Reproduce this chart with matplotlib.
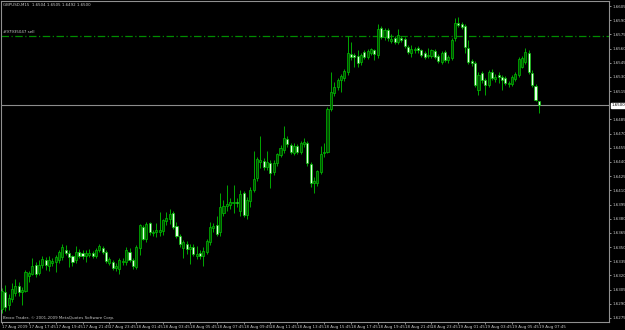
import matplotlib
matplotlib.use('Agg')
import matplotlib.pyplot as plt
import numpy as np

# GBPUSD M15, 17 Aug 2009 15:45 .. 19 Aug 2009 07:45
opens = [1.6284, 1.6302, 1.6289, 1.6295, 1.6301, 1.6309, 1.6302, 1.6303, 1.6319, 1.6322,
         1.6331, 1.6323, 1.6331, 1.6336, 1.6330, 1.6333, 1.6334, 1.6336, 1.6339, 1.6347,
         1.6344, 1.6340, 1.6336, 1.6345, 1.6344, 1.6340, 1.6342, 1.6344, 1.6340, 1.6347,
         1.6349, 1.6345, 1.6333, 1.6334, 1.6328, 1.6327, 1.6334, 1.6334, 1.6345, 1.6336,
         1.6329, 1.6349, 1.6371, 1.6358, 1.6375, 1.6365, 1.6366, 1.6366, 1.6367, 1.6378,
         1.6380, 1.6386, 1.6372, 1.6362, 1.6349, 1.6353, 1.6348, 1.6350, 1.6341, 1.6344,
         1.6341, 1.6345, 1.6355, 1.6370, 1.6373, 1.6366, 1.6386, 1.6393, 1.6394, 1.6397,
         1.6398, 1.6388, 1.6407, 1.6384, 1.6399, 1.6410, 1.6423, 1.6440, 1.6441, 1.6435,
         1.6439, 1.6429, 1.6439, 1.6447, 1.6453, 1.6464, 1.6458, 1.6450, 1.6457, 1.6451,
         1.6459, 1.6460, 1.6438, 1.6418, 1.6418, 1.6429, 1.6449, 1.6451, 1.6496, 1.6513,
         1.6519, 1.6527, 1.6529, 1.6535, 1.6554, 1.6553, 1.6552, 1.6546, 1.6556, 1.6551,
         1.6555, 1.6558, 1.6553, 1.6582, 1.6572, 1.6580, 1.6568, 1.6571, 1.6567, 1.6571,
         1.6570, 1.6562, 1.6555, 1.6558, 1.6561, 1.6558, 1.6555, 1.6552, 1.6552, 1.6557,
         1.6552, 1.6546, 1.6556, 1.6548, 1.6550, 1.6571, 1.6587, 1.6586, 1.6584, 1.6561,
         1.6547, 1.6545, 1.6516, 1.6534, 1.6527, 1.6521, 1.6535, 1.6528, 1.6532, 1.6530,
         1.6529, 1.6522, 1.6522, 1.6528, 1.6532, 1.6541, 1.6546, 1.6555, 1.6534, 1.6520,
         1.6504]
highs = [1.6307, 1.6310, 1.6300, 1.6312, 1.6316, 1.6313, 1.6308, 1.6326, 1.6325, 1.6338,
         1.6334, 1.6336, 1.6340, 1.6339, 1.6340, 1.6338, 1.6342, 1.6347, 1.6353, 1.6352,
         1.6347, 1.6342, 1.6351, 1.6348, 1.6347, 1.6347, 1.6348, 1.6346, 1.6349, 1.6353,
         1.6351, 1.6347, 1.6339, 1.6336, 1.6333, 1.6338, 1.6338, 1.6350, 1.6349, 1.6338,
         1.6352, 1.6374, 1.6373, 1.6376, 1.6377, 1.6368, 1.6375, 1.6387, 1.6380, 1.6387,
         1.6390, 1.6388, 1.6376, 1.6364, 1.6357, 1.6356, 1.6353, 1.6353, 1.6351, 1.6347,
         1.6350, 1.6358, 1.6377, 1.6375, 1.6383, 1.6407, 1.6400, 1.6416, 1.6402, 1.6416,
         1.6402, 1.6410, 1.6409, 1.6403, 1.6413, 1.6452, 1.6445, 1.6468, 1.6444, 1.6452,
         1.6442, 1.6442, 1.6450, 1.6458, 1.6478, 1.6467, 1.6460, 1.6460, 1.6459, 1.6462,
         1.6465, 1.6462, 1.6440, 1.6424, 1.6432, 1.6457, 1.6460, 1.6498, 1.6535, 1.6525,
         1.6529, 1.6533, 1.6538, 1.6573, 1.6567, 1.6555, 1.6558, 1.6555, 1.6558, 1.6559,
         1.6561, 1.6560, 1.6586, 1.6584, 1.6582, 1.6582, 1.6575, 1.6573, 1.6581, 1.6573,
         1.6572, 1.6564, 1.6564, 1.6562, 1.6563, 1.6560, 1.6557, 1.6561, 1.6560, 1.6559,
         1.6554, 1.6557, 1.6558, 1.6553, 1.6571, 1.6592, 1.6593, 1.6588, 1.6586, 1.6569,
         1.6549, 1.6547, 1.6535, 1.6536, 1.6529, 1.6537, 1.6538, 1.6533, 1.6535, 1.6532,
         1.6531, 1.6526, 1.6532, 1.6535, 1.6551, 1.6552, 1.6561, 1.6558, 1.6537, 1.6522,
         1.6505]
lows = [1.6280, 1.6282, 1.6283, 1.6292, 1.6298, 1.6298, 1.6289, 1.6302, 1.6313, 1.6320,
        1.6318, 1.6320, 1.6328, 1.6326, 1.6325, 1.6330, 1.6324, 1.6333, 1.6336, 1.6342,
        1.6329, 1.6330, 1.6333, 1.6338, 1.6337, 1.6334, 1.6339, 1.6338, 1.6338, 1.6345,
        1.6343, 1.6333, 1.6331, 1.6326, 1.6325, 1.6322, 1.6331, 1.6331, 1.6334, 1.6327,
        1.6327, 1.6342, 1.6357, 1.6355, 1.6363, 1.6362, 1.6361, 1.6362, 1.6363, 1.6373,
        1.6374, 1.6369, 1.6360, 1.6350, 1.6338, 1.6343, 1.6332, 1.6341, 1.6337, 1.6337,
        1.6330, 1.6343, 1.6352, 1.6366, 1.6362, 1.6362, 1.6383, 1.6388, 1.6390, 1.6386,
        1.6392, 1.6383, 1.6382, 1.6380, 1.6392, 1.6408, 1.6420, 1.6434, 1.6432, 1.6432,
        1.6412, 1.6426, 1.6436, 1.6445, 1.6450, 1.6456, 1.6448, 1.6447, 1.6448, 1.6448,
        1.6456, 1.6436, 1.6413, 1.6407, 1.6415, 1.6427, 1.6445, 1.6449, 1.6494, 1.6510,
        1.6516, 1.6514, 1.6526, 1.6532, 1.6548, 1.6541, 1.6541, 1.6543, 1.6549, 1.6549,
        1.6553, 1.6548, 1.6550, 1.6570, 1.6569, 1.6568, 1.6566, 1.6565, 1.6565, 1.6567,
        1.6561, 1.6554, 1.6551, 1.6555, 1.6555, 1.6551, 1.6549, 1.6550, 1.6550, 1.6549,
        1.6545, 1.6544, 1.6546, 1.6545, 1.6548, 1.6568, 1.6583, 1.6581, 1.6555, 1.6544,
        1.6542, 1.6519, 1.6511, 1.6524, 1.6511, 1.6519, 1.6527, 1.6525, 1.6524, 1.6516,
        1.6521, 1.6519, 1.6520, 1.6526, 1.6530, 1.6539, 1.6544, 1.6533, 1.6519, 1.6504,
        1.6492]
closes = [1.6303, 1.6287, 1.6296, 1.6306, 1.6309, 1.6302, 1.6305, 1.6324, 1.6323, 1.6330,
          1.6322, 1.6331, 1.6337, 1.6331, 1.6336, 1.6335, 1.6339, 1.6345, 1.6350, 1.6344,
          1.6339, 1.6334, 1.6345, 1.6341, 1.6340, 1.6344, 1.6344, 1.6341, 1.6347, 1.6351,
          1.6345, 1.6335, 1.6337, 1.6328, 1.6330, 1.6336, 1.6335, 1.6347, 1.6336, 1.6330,
          1.6350, 1.6373, 1.6359, 1.6374, 1.6366, 1.6366, 1.6368, 1.6368, 1.6379, 1.6381,
          1.6385, 1.6371, 1.6362, 1.6353, 1.6355, 1.6348, 1.6350, 1.6343, 1.6343, 1.6341,
          1.6346, 1.6356, 1.6371, 1.6372, 1.6364, 1.6392, 1.6393, 1.6396, 1.6398, 1.6398,
          1.6397, 1.6406, 1.6384, 1.6400, 1.6410, 1.6422, 1.6443, 1.6442, 1.6435, 1.6440,
          1.6428, 1.6439, 1.6448, 1.6455, 1.6465, 1.6459, 1.6451, 1.6457, 1.6451, 1.6460,
          1.6461, 1.6439, 1.6418, 1.6420, 1.6430, 1.6448, 1.6451, 1.6496, 1.6514, 1.6519,
          1.6527, 1.6531, 1.6536, 1.6555, 1.6551, 1.6551, 1.6545, 1.6553, 1.6551, 1.6557,
          1.6559, 1.6554, 1.6581, 1.6572, 1.6580, 1.6571, 1.6570, 1.6567, 1.6574, 1.6569,
          1.6563, 1.6556, 1.6559, 1.6559, 1.6558, 1.6553, 1.6551, 1.6553, 1.6558, 1.6551,
          1.6547, 1.6555, 1.6548, 1.6551, 1.6569, 1.6587, 1.6585, 1.6583, 1.6562, 1.6546,
          1.6545, 1.6521, 1.6532, 1.6527, 1.6521, 1.6535, 1.6529, 1.6530, 1.6530, 1.6527,
          1.6524, 1.6524, 1.6530, 1.6533, 1.6549, 1.6550, 1.6556, 1.6535, 1.6521, 1.6506,
          1.6500]

time_labels = ['17 Aug 2009', '17 Aug 17:45', '17 Aug 19:45', '17 Aug 21:45', '17 Aug 23:45',
               '18 Aug 01:45', '18 Aug 03:45', '18 Aug 05:45', '18 Aug 07:45', '18 Aug 09:45',
               '18 Aug 11:45', '18 Aug 13:45', '18 Aug 15:45', '18 Aug 17:45', '18 Aug 19:45',
               '18 Aug 21:45', '18 Aug 23:45', '19 Aug 01:45', '19 Aug 03:45', '19 Aug 05:45',
               '19 Aug 07:45']
price_ticks = [1.6605, 1.6590, 1.6575, 1.6560, 1.6545, 1.6530, 1.6515, 1.6485, 1.6470,
               1.6455, 1.6440, 1.6425, 1.6410, 1.6395, 1.6380, 1.6365, 1.6350, 1.6335,
               1.6320, 1.6305, 1.6290, 1.6275]
bid = 1.6500
order_price = 1.6573
header = 'GBPUSD,M15  1.6504 1.6505 1.6492 1.6500'
order_label = '#97935047 sell'
footer = 'Broco Trader, \u00a9 2001-2009 MetaQuotes Software Corp.'

plt.rcParams['font.family'] = ['Liberation Sans Narrow', 'DejaVu Sans']
fs = 2.9
txt = '#c8c8c8'

o = np.array(opens); h = np.array(highs); l = np.array(lows); c = np.array(closes)
x = np.arange(len(o))
up = c >= o

fig = plt.figure(figsize=(6.25, 3.3), dpi=100, facecolor='black')
ax = fig.add_axes([1/625, 8/330, 608/625, 321/330], facecolor='black')

# wicks
ax.vlines(x, l, h, color='#00a800', lw=0.7, zorder=2)
# bodies
body_lo = np.minimum(o, c)
body_h = np.maximum(np.abs(c - o), 0.00004)
ax.bar(x[up], body_h[up], bottom=body_lo[up], width=0.62, color='#004e00',
       edgecolor='#00c000', lw=0.5, zorder=3)
ax.bar(x[~up], body_h[~up], bottom=body_lo[~up], width=0.62, color='#e6ffe6',
       edgecolor='#00c000', lw=0.5, zorder=3)

# bid line and order line
ax.axhline(bid, color='#8c8c8c', lw=0.8, zorder=1)
ax.axhline(order_price, color='#008c00', lw=0.9, ls=(0, (6, 2, 1, 2)), zorder=1)

ax.set_xlim(-0.3, 180.9)
ax.set_ylim(1.62707, 1.66103)

ax.yaxis.tick_right()
ax.set_yticks(price_ticks)
ax.set_yticklabels(['%.4f' % p for p in price_ticks])
ax.set_xticks(np.arange(0, len(o), 8))
ax.set_xticklabels(time_labels, ha='left')
ax.tick_params(colors=txt, labelsize=fs, length=1.5, width=0.5, pad=0.8)
for s in ax.spines.values():
    s.set_color('#909090')
    s.set_linewidth(0.8)

# bid price box on the axis
ax.text(1.004, bid, '%.4f' % bid, transform=ax.get_yaxis_transform(), fontsize=fs,
        color='black', va='center', ha='left',
        bbox=dict(boxstyle='square,pad=0.15', fc='white', ec='white'))

ax.text(0.004, 0.993, header, transform=ax.transAxes, fontsize=fs, color=txt,
        va='top', ha='left')
ax.text(0.004, order_price + 0.0002, order_label, transform=ax.get_yaxis_transform(),
        fontsize=fs, color=txt, va='bottom', ha='left')
ax.text(0.004, 0.006, footer, transform=ax.transAxes, fontsize=fs, color=txt,
        va='bottom', ha='left')

plt.savefig('out.png', dpi=100, facecolor='black')
